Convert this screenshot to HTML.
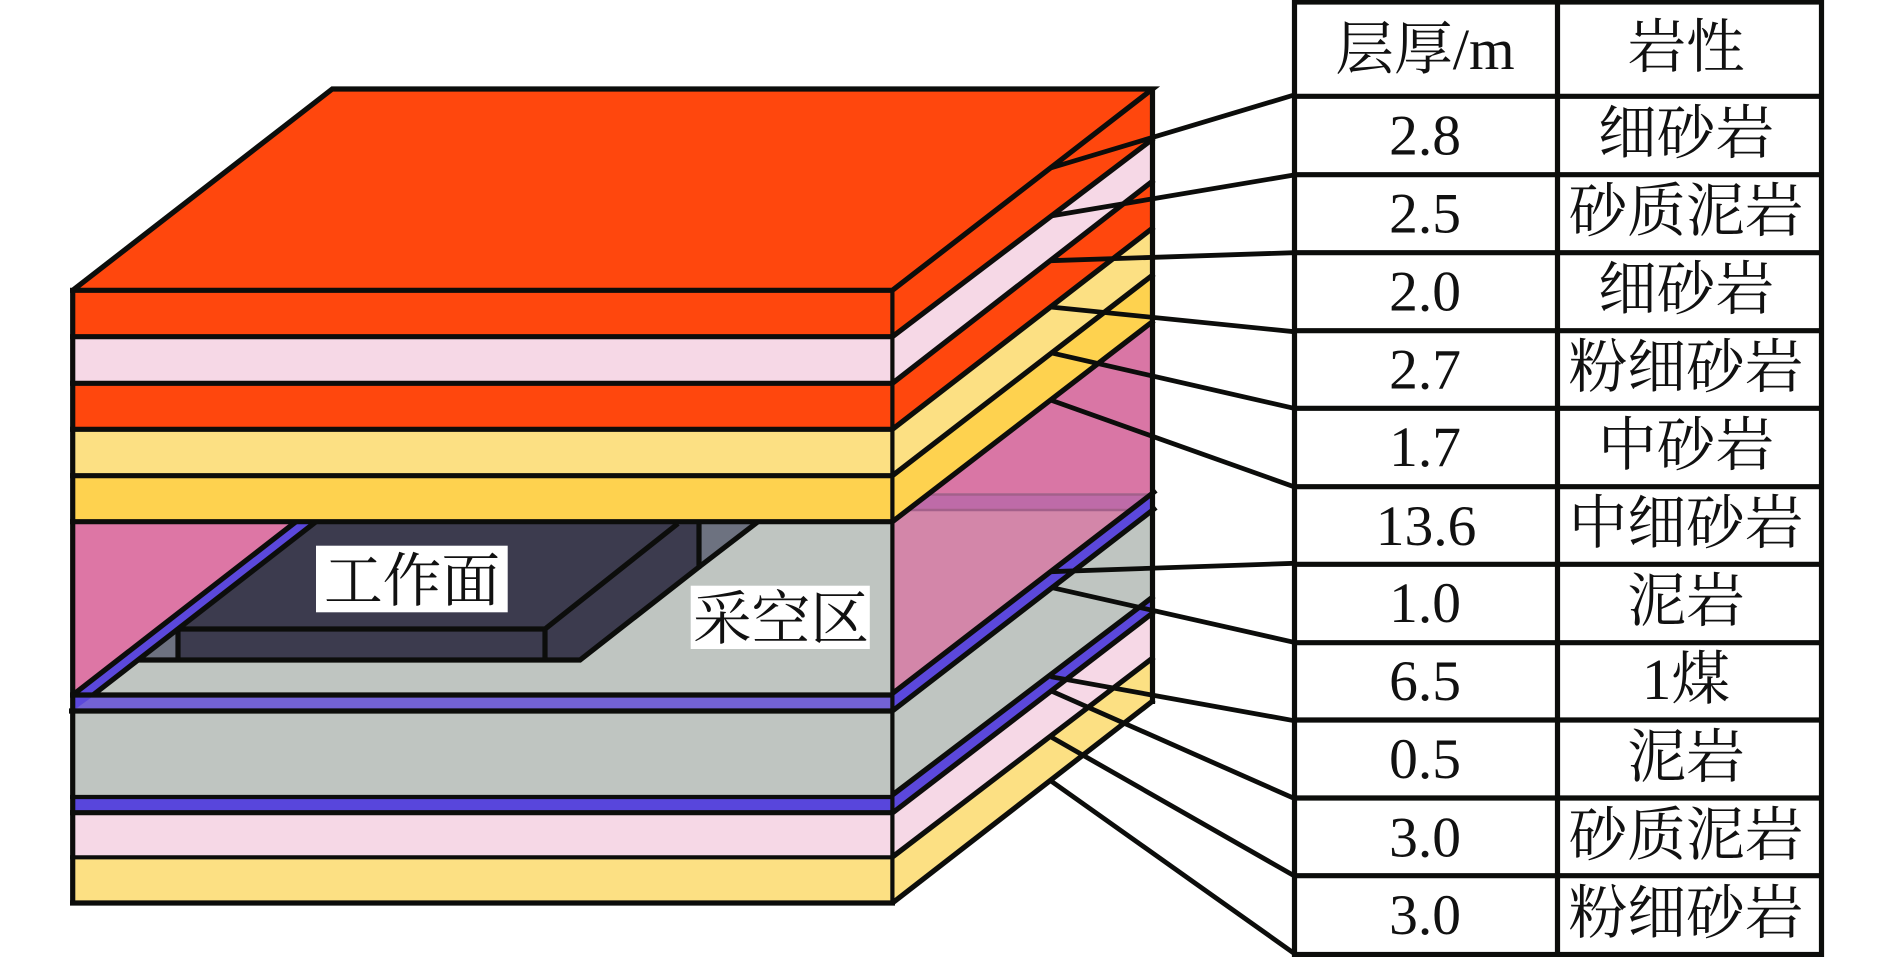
<!DOCTYPE html>
<html lang="zh">
<head>
<meta charset="utf-8">
<title>Strata diagram</title>
<style>
html,body{margin:0;padding:0;background:#fff;width:1890px;height:957px;overflow:hidden}
svg{display:block}
text{font-family:"Liberation Serif","Noto Serif CJK SC",serif;fill:#111;font-size:57.5px;text-anchor:middle}
text.c{font-size:58.7px}
.l{stroke:#0c0d0b;stroke-width:5.2;fill:none;stroke-linecap:butt;stroke-linejoin:miter}
.t{stroke:#0c0d0b;stroke-width:4.2;fill:none}
</style>
</head>
<body>
<svg width="1890" height="957" viewBox="0 0 1890 957" xmlns="http://www.w3.org/2000/svg">
<rect width="1890" height="957" fill="#fff"/>

<!-- top face -->
<polygon points="72.7,290.3 332.3,89 1152.5,89 892.4,290.3" fill="#FF470D"/>

<!-- front bands -->
<rect x="72.7" y="290.3" width="819.7" height="46.4" fill="#FF470D"/>
<rect x="72.7" y="336.7" width="819.7" height="46.6" fill="#F6D8E6"/>
<rect x="72.7" y="383.3" width="819.7" height="46" fill="#FF470D"/>
<rect x="72.7" y="429.3" width="819.7" height="46.4" fill="#FCE083"/>
<rect x="72.7" y="475.7" width="819.7" height="46" fill="#FED24F"/>

<!-- cavity back -->
<rect x="72.7" y="521.7" width="819.7" height="173.3" fill="#BFC5C1"/>
<polygon points="72.7,521.7 295,521.7 72.7,695" fill="#DD76A5"/>
<polygon points="72.7,695 295,521.7 315,521.7 93,695" fill="#5B48DC"/>
<!-- dark workface -->
<polygon points="138,660 315,521.7 699,521.7 699,567 580,660" fill="#3C3B4E"/>
<polygon points="143,658 178,631 178,658" fill="#6D7280"/>
<polygon points="699,524 757,524 699,567" fill="#6D7280"/>

<!-- lower front bands -->
<rect x="72.7" y="695" width="819.7" height="16" fill="#7362D6"/>
<polygon points="72.7,697 92,697 72.7,711" fill="#5B48DC"/>
<rect x="72.7" y="711" width="819.7" height="86" fill="#BFC5C1"/>
<rect x="72.7" y="797" width="819.7" height="16" fill="#5846DC"/>
<rect x="72.7" y="813" width="819.7" height="44.3" fill="#F6D8E6"/>
<rect x="72.7" y="857.3" width="819.7" height="45.7" fill="#FCE083"/>

<!-- right face -->
<polygon points="892.4,290.3 1152.5,89 1152.5,140 892.4,336.7" fill="#FF470D"/>
<polygon points="892.4,336.7 1152.5,140 1152.5,181.7 892.4,383.3" fill="#F6D8E6"/>
<polygon points="892.4,383.3 1152.5,181.7 1152.5,228 892.4,429.3" fill="#FF470D"/>
<polygon points="892.4,429.3 1152.5,228 1152.5,275 892.4,475.7" fill="#FCE083"/>
<polygon points="892.4,475.7 1152.5,275 1152.5,321.7 892.4,521.7" fill="#FED24F"/>
<polygon points="892.4,521.7 1152.5,321.7 1152.5,493 892.4,693" fill="#D386A9"/>
<polygon points="930,493 1152.5,493 1152.5,321.7 892.4,521.7" fill="#D976A5"/>
<polygon points="930,494 1152.5,494 1132,510 910,510" fill="#BE6BA8"/>
<line x1="930" y1="494.5" x2="1150" y2="494.5" stroke="#A3608A" stroke-width="2.4"/>
<line x1="910" y1="510" x2="1130" y2="510" stroke="#A3608A" stroke-width="2.4"/>
<polygon points="892.4,693 1152.5,493 1152.5,510 892.4,711" fill="#5B48DC"/>
<polygon points="892.4,711 1152.5,510 1152.5,597 892.4,795" fill="#BFC5C1"/>
<polygon points="892.4,795 1152.5,597 1152.5,613 892.4,813" fill="#5B48DC"/>
<polygon points="892.4,813 1152.5,613 1152.5,658 892.4,857" fill="#F6D8E6"/>
<polygon points="892.4,857 1152.5,658 1152.5,701.7 892.4,903" fill="#FCE083"/>

<!-- workface lines -->
<g class="l">
<path d="M138,660 H580 L699,567 V521.7"/>
<path d="M178,629 H545 L678,523.5"/>
<path d="M178,629 V660 M545,629 V660"/>
<path d="M699,567 L758,521.7"/>
</g>

<!-- slanted seam edges on cavity -->
<g class="l">
<line x1="72.7" y1="695" x2="296" y2="521.7"/>
<line x1="93" y1="695" x2="316" y2="521.7"/>
</g>

<!-- outline & horizontals -->
<g class="l">
<path d="M70,290.3 H892.4 L1152.5,89 H332.3 L72.7,290.3"/>
<line x1="72.7" y1="290" x2="72.7" y2="905"/>
<line x1="70" y1="336.7" x2="892.4" y2="336.7"/>
<line x1="70" y1="383.3" x2="892.4" y2="383.3"/>
<line x1="70" y1="429.3" x2="892.4" y2="429.3"/>
<line x1="70" y1="475.7" x2="892.4" y2="475.7"/>
<line x1="70" y1="521.7" x2="892.4" y2="521.7"/>
<line x1="70" y1="695" x2="892.4" y2="695"/>
<line x1="69" y1="711" x2="892.4" y2="711"/>
<line x1="70" y1="812.7" x2="892.4" y2="812.7"/>
<line x1="70" y1="903" x2="895" y2="903"/>
</g>
<g class="t">
<line x1="70" y1="797" x2="892.4" y2="797"/>
<line x1="70" y1="857.3" x2="892.4" y2="857.3"/>
<line x1="892.4" y1="290" x2="892.4" y2="903"/>
</g>

<!-- right face lines -->
<g class="l">
<line x1="1152.5" y1="87" x2="1152.5" y2="704"/>
<line x1="892.4" y1="336.7" x2="1154" y2="138"/>
<line x1="892.4" y1="383.3" x2="1154" y2="180"/>
<line x1="892.4" y1="429.3" x2="1154" y2="227"/>
<line x1="892.4" y1="475.7" x2="1154" y2="274"/>
<line x1="892.4" y1="521.7" x2="1154" y2="320.5"/>
<line x1="892.4" y1="693.5" x2="1156" y2="490.5"/>
<line x1="892.4" y1="711" x2="1156" y2="507.5"/>
<line x1="892.4" y1="795" x2="1154" y2="596"/>
<line x1="892.4" y1="813" x2="1154" y2="612"/>
<line x1="892.4" y1="857" x2="1154" y2="657"/>
<line x1="892.4" y1="903" x2="1154" y2="700"/>
</g>

<!-- leaders -->
<g class="l" style="stroke-width:4.8">
<line x1="1050.6" y1="168" x2="1294" y2="95"/>
<line x1="1050.6" y1="216" x2="1294" y2="175"/>
<line x1="1050.6" y1="260.7" x2="1294" y2="252.7"/>
<line x1="1050.6" y1="307" x2="1294" y2="331.7"/>
<line x1="1050.6" y1="352.7" x2="1294" y2="408.3"/>
<line x1="1050.6" y1="400" x2="1294" y2="486.7"/>
<line x1="1050.6" y1="571.7" x2="1294" y2="563.3"/>
<line x1="1050.6" y1="587.3" x2="1294" y2="642.3"/>
<line x1="1050.6" y1="676.7" x2="1294" y2="720.7"/>
<line x1="1050.6" y1="690.7" x2="1294" y2="798.3"/>
<line x1="1050.6" y1="736.7" x2="1294" y2="875.7"/>
<line x1="1050.6" y1="780.7" x2="1294" y2="953.3"/>
</g>

<!-- labels in cavity -->
<rect x="316" y="545.7" width="191.7" height="66.6" fill="#fff"/>
<text class="c" x="412" y="601">工作面</text>
<rect x="690.7" y="585.7" width="179.1" height="63.3" fill="#fff"/>
<text class="c" x="781" y="639">采空区</text>

<!-- table -->
<g class="l">
<rect x="1294.5" y="2" width="527" height="952.5"/>
<line x1="1557.5" y1="2" x2="1557.5" y2="954"/>
<line x1="1294" y1="96.3" x2="1822" y2="96.3"/>
<line x1="1294" y1="174.7" x2="1822" y2="174.7"/>
<line x1="1294" y1="252.7" x2="1822" y2="252.7"/>
<line x1="1294" y1="330.7" x2="1822" y2="330.7"/>
<line x1="1294" y1="408.3" x2="1822" y2="408.3"/>
<line x1="1294" y1="486.7" x2="1822" y2="486.7"/>
<line x1="1294" y1="564.3" x2="1822" y2="564.3"/>
<line x1="1294" y1="642.7" x2="1822" y2="642.7"/>
<line x1="1294" y1="720" x2="1822" y2="720"/>
<line x1="1294" y1="798" x2="1822" y2="798"/>
<line x1="1294" y1="875.7" x2="1822" y2="875.7"/>
</g>

<text class="c" x="1425" y="69">层厚/m</text>
<text class="c" x="1686" y="67">岩性</text>

<text x="1425" y="154.5">2.8</text>
<text x="1425" y="232.3">2.5</text>
<text x="1425" y="310.7">2.0</text>
<text x="1425" y="388.7">2.7</text>
<text x="1425" y="466">1.7</text>
<text x="1426" y="545">13.6</text>
<text x="1425" y="622">1.0</text>
<text x="1425" y="700">6.5</text>
<text x="1425" y="778">0.5</text>
<text x="1425" y="856.5">3.0</text>
<text x="1425" y="934">3.0</text>

<text class="c" x="1686" y="153">细砂岩</text>
<text class="c" x="1686" y="231">砂质泥岩</text>
<text class="c" x="1686" y="309">细砂岩</text>
<text class="c" x="1686" y="387">粉细砂岩</text>
<text class="c" x="1686" y="465">中砂岩</text>
<text class="c" x="1686" y="543">中细砂岩</text>
<text class="c" x="1686" y="621">泥岩</text>
<text class="c" x="1686" y="699">1煤</text>
<text class="c" x="1686" y="777">泥岩</text>
<text class="c" x="1686" y="855">砂质泥岩</text>
<text class="c" x="1686" y="933">粉细砂岩</text>
</svg>
</body>
</html>
